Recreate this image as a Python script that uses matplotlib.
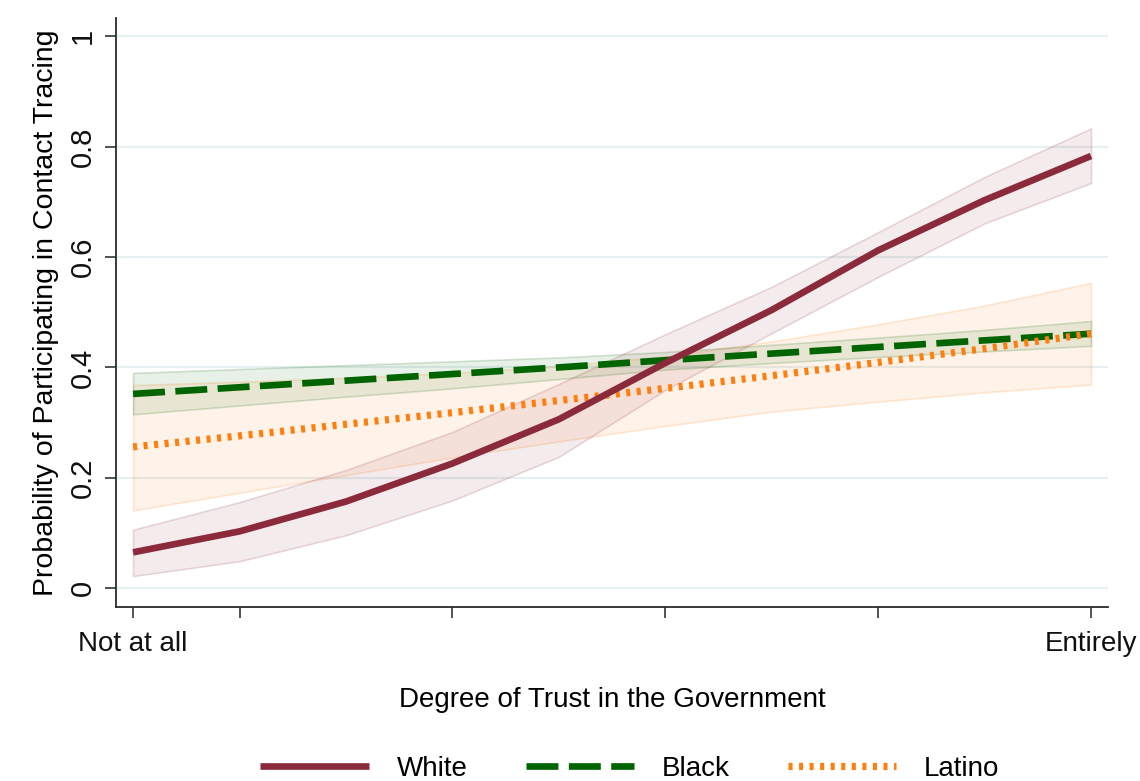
import numpy as np
import matplotlib
matplotlib.use("Agg")
import matplotlib.pyplot as plt

# trust levels 0..9, only ends labelled
trust = [0, 1, 2, 3, 4, 5, 6, 7, 8, 9]
xticks = [0, 1, 3, 5, 7, 9]
xticklabels = ["Not at all", "", "", "", "", "Entirely"]
yticks = [0, 0.2, 0.4, 0.6, 0.8, 1]
yticklabels = ["0", "0.2", "0.4", "0.6", "0.8", "1"]

white = [0.065, 0.103, 0.157, 0.226, 0.306, 0.408, 0.504, 0.612, 0.703, 0.783]
white_lo = [0.022, 0.049, 0.096, 0.159, 0.238, 0.359, 0.462, 0.564, 0.661, 0.734]
white_hi = [0.106, 0.156, 0.214, 0.283, 0.370, 0.460, 0.546, 0.645, 0.745, 0.833]

black = [0.352, 0.364, 0.376, 0.388, 0.400, 0.413, 0.425, 0.437, 0.449, 0.461]
black_lo = [0.315, 0.331, 0.347, 0.362, 0.379, 0.396, 0.408, 0.419, 0.429, 0.439]
black_hi = [0.390, 0.397, 0.404, 0.411, 0.418, 0.428, 0.441, 0.454, 0.468, 0.484]

latino = [0.256, 0.276, 0.297, 0.318, 0.340, 0.362, 0.385, 0.409, 0.434, 0.461]
latino_lo = [0.141, 0.173, 0.205, 0.237, 0.266, 0.294, 0.320, 0.338, 0.355, 0.369]
latino_hi = [0.368, 0.374, 0.381, 0.390, 0.402, 0.420, 0.447, 0.478, 0.512, 0.553]

c_white = "#8B2A3A"
c_black = "#006400"
c_latino = "#FF7F0E"

plt.rcParams['font.family'] = ['Liberation Sans', 'DejaVu Sans']
plt.rcParams['lines.scale_dashes'] = False

fig = plt.figure(figsize=(11.4, 7.81), dpi=100)
ax = fig.add_axes([0.1018, 0.2228, 0.8702, 0.7542])

for lo, hi, c in [(latino_lo, latino_hi, c_latino), (black_lo, black_hi, c_black),
                  (white_lo, white_hi, c_white)]:
    ax.fill_between(trust, lo, hi, facecolor=matplotlib.colors.to_rgba(c, 0.09),
                    edgecolor=matplotlib.colors.to_rgba(c, 0.17), linewidth=1.2, zorder=2)

ax.plot(trust, black, color=c_black, linewidth=4.8, dashes=(23, 7.5),
        solid_capstyle='butt', dash_capstyle='butt', zorder=3, label="Black")
ax.plot(trust, latino, color=c_latino, linewidth=5.2, dashes=(2.9, 4.7),
        dash_capstyle='butt', zorder=4, label="Latino")
ax.plot(trust, white, color=c_white, linewidth=4.8, solid_capstyle='butt',
        zorder=5, label="White")

ax.set_xlim(-0.16, 9.16)
ax.set_ylim(-0.034, 1.033)
ax.set_xticks(xticks)
ax.set_xticklabels(xticklabels, fontsize=20)
ax.set_yticks(yticks)
ax.set_yticklabels(yticklabels, fontsize=21, rotation=90, va='center')

ax.grid(axis='y', color='#e6eff1', linewidth=1.6, zorder=0)
ax.set_axisbelow(True)
for s in ['top', 'right']:
    ax.spines[s].set_visible(False)
for s in ['left', 'bottom']:
    ax.spines[s].set_color('#2b2b2b')
    ax.spines[s].set_linewidth(1.3)
ax.tick_params(axis='both', direction='out', length=8, width=1.3, color='#444444',
               labelcolor='#111111')
ax.tick_params(axis='x', pad=9)
ax.tick_params(axis='y', pad=6)

ax.set_xlabel("Degree of Trust in the Government", fontsize=20, labelpad=22)
ax.set_ylabel("Probability of Participating in Contact Tracing", fontsize=20.5, labelpad=7)

handles, labels = ax.get_legend_handles_labels()
order = [2, 0, 1]
fig.legend([handles[i] for i in order], [labels[i] for i in order],
           loc='center', bbox_to_anchor=(0.5526, 0.016), ncol=3, frameon=False,
           fontsize=20, handlelength=3.9, handletextpad=1.0, columnspacing=2.1)

fig.savefig("out.png", dpi=100)
